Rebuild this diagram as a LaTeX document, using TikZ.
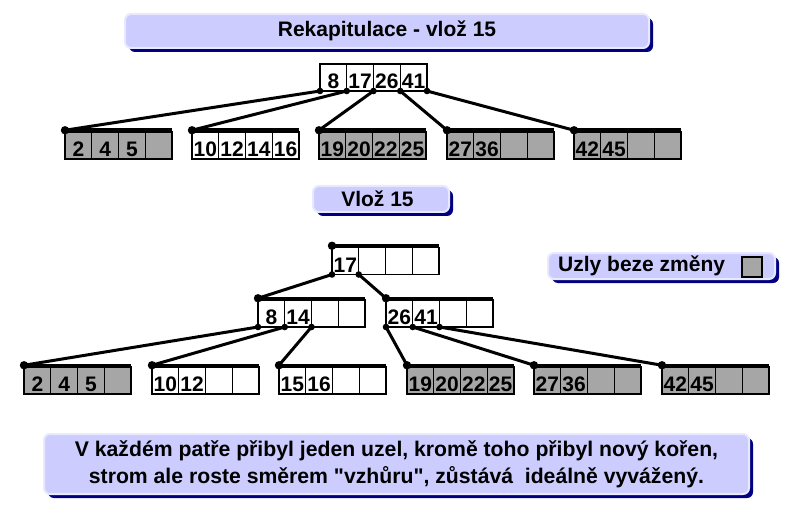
\documentclass[tikz,border=0pt]{standalone}
\usepackage{fontspec}
\setmainfont{Liberation Sans}
\usetikzlibrary{shadows}
\definecolor{lav}{RGB}{204,204,255}
\definecolor{lavedge}{RGB}{232,232,255}
\definecolor{navy}{RGB}{0,0,128}
\definecolor{cellgray}{RGB}{166,166,166}
\tikzset{
 cell/.style={draw=black,line width=1.1pt,minimum width=26.75pt,minimum height=27pt,inner sep=0pt,outer sep=0pt,text height=22pt,text depth=0pt,font=\fontsize{21}{21}\selectfont\bfseries},
 barline/.style={line width=3.5pt},
 link/.style={line width=3pt},
 box/.style={rounded corners=6pt,fill=lav,draw=lavedge,line width=2pt,inner sep=0pt,
   drop shadow={shadow xshift=4pt,shadow yshift=-4pt,fill=navy,opacity=1}},
}
\newcommand\btn[8]{%
 \node[cell,fill=#4,anchor=north west] (#1-1) at (#2,#3) {#5};
 \node[cell,fill=#4,anchor=north west] (#1-2) at (#1-1.north east) {#6};
 \node[cell,fill=#4,anchor=north west] (#1-3) at (#1-2.north east) {#7};
 \node[cell,fill=#4,anchor=north west] (#1-4) at (#1-3.north east) {#8};
}
\newcommand\btbar[1]{%
 \draw[barline] ([yshift=1.75pt]#1-1.north west) -- ([yshift=1.75pt]#1-4.north east);
 \coordinate (#1-p) at ([yshift=1.75pt]#1-1.north west);
 \fill (#1-p) circle (4.2pt);
}
\newcommand\lnk[2]{%
 \draw[link] (#1) -- (#2);
 \fill (#1) circle (3.3pt);
}
\begin{document}
\begin{tikzpicture}[x=1pt,y=-1pt]
\useasboundingbox (0,0) rectangle (787,505);
% titles
\node[box,anchor=north west,minimum width=524pt,minimum height=34pt,font=\fontsize{21}{21}\selectfont\bfseries] (t1) at (124,13) {Rekapitulace - vlož 15};
\node[box,anchor=north west,minimum width=136pt,minimum height=26pt,font=\fontsize{21}{21}\selectfont\bfseries] (t2) at (312,185) {Vlož 15\hspace*{7pt}};
\node[box,anchor=north west,minimum width=227pt,minimum height=26pt] (leg) at (547,252) {};
\node[anchor=west,inner sep=0pt,font=\fontsize{21}{21}\selectfont\bfseries] (legtxt) at (558,266) {Uzly beze změny};
\node[draw=black,line width=1.1pt,fill=cellgray,minimum width=20pt,minimum height=20pt,inner sep=0pt] (legsq) at (752,267) {};
\node[box,anchor=north west,minimum width=705pt,minimum height=60pt,align=center,font=\fontsize{21.2}{27}\selectfont\bfseries] (note) at (43,433) {V každém patře přibyl jeden uzel, kromě toho přibyl nový kořen,\\strom ale roste směrem \textquotedbl vzhůru\textquotedbl, zůstává\ \ ideálně vyvážený.};
% top tree
\btn{r}{320}{64}{white}{8}{17}{26}{41}
\btn{a}{65}{132}{cellgray}{2}{4}{5}{}
\btn{b}{192}{132}{white}{10}{12}{14}{16}
\btn{c}{319}{132}{cellgray}{19}{20}{22}{25}
\btn{d}{447}{132}{cellgray}{27}{36}{}{}
\btn{e}{574}{132}{cellgray}{42}{45}{}{}
\btbar{a}\btbar{b}\btbar{c}\btbar{d}\btbar{e}
\lnk{r-1.south west}{a-p}
\lnk{r-2.south west}{b-p}
\lnk{r-3.south west}{c-p}
\lnk{r-4.south west}{d-p}
\lnk{r-4.south east}{e-p}
% bottom tree
\btn{R}{332}{247.5}{white}{17}{}{}{}
\btn{L}{258}{300}{white}{8}{14}{}{}
\btn{M}{386}{300}{white}{26}{41}{}{}
\btn{A}{24}{367}{cellgray}{2}{4}{5}{}
\btn{B}{152}{367}{white}{10}{12}{}{}
\btn{C}{279}{367}{white}{15}{16}{}{}
\btn{D}{407}{367}{cellgray}{19}{20}{22}{25}
\btn{E}{534}{367}{cellgray}{27}{36}{}{}
\btn{F}{662}{367}{cellgray}{42}{45}{}{}
\btbar{R}\btbar{L}\btbar{M}\btbar{A}\btbar{B}\btbar{C}\btbar{D}\btbar{E}\btbar{F}
\lnk{R-1.south west}{L-p}
\lnk{R-2.south west}{M-p}
\lnk{L-1.south west}{A-p}
\lnk{L-2.south west}{B-p}
\lnk{L-3.south west}{C-p}
\lnk{M-1.south west}{D-p}
\lnk{M-2.south west}{E-p}
\lnk{M-3.south west}{F-p}
\end{tikzpicture}
\end{document}
